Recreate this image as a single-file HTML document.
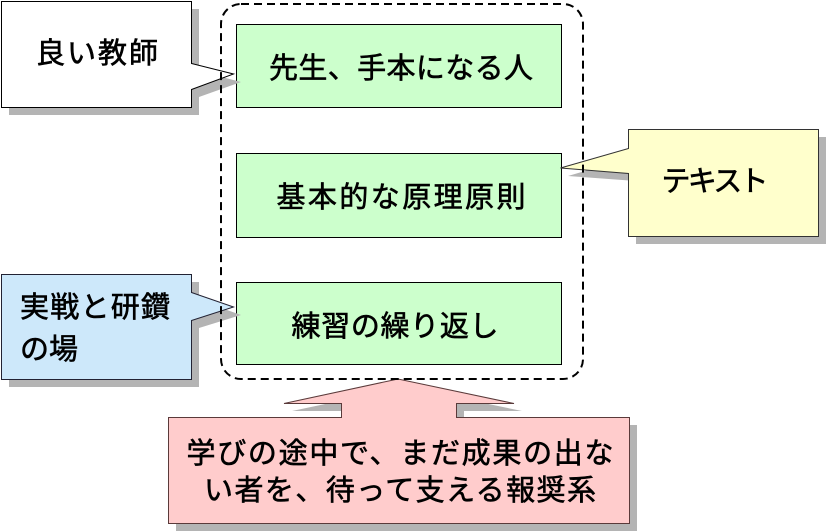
<!DOCTYPE html>
<html>
<head>
<meta charset="utf-8">
<style>
  html, body { margin: 0; padding: 0; background: #ffffff; }
  body { width: 826px; height: 532px; overflow: hidden; }
  svg { display: block; }
  text { font-family: "Liberation Sans", "Noto Sans CJK JP", sans-serif; fill: #000; stroke: #000; stroke-width: 0.6px; }
</style>
</head>
<body>
<svg width="826" height="532" viewBox="0 0 826 532" xmlns="http://www.w3.org/2000/svg">
  <!-- green boxes -->
  <rect x="236.5" y="24.5" width="325" height="83" fill="#ccffcc" stroke="#000" stroke-width="1"/>
  <rect x="236.5" y="153.5" width="325" height="84" fill="#ccffcc" stroke="#000" stroke-width="1"/>
  <rect x="236.5" y="282.5" width="325" height="82" fill="#ccffcc" stroke="#000" stroke-width="1"/>

  <text x="401" y="78" font-size="29" text-anchor="middle" textLength="264" lengthAdjust="spacing">先生、手本になる人</text>
  <text x="401" y="207" font-size="29" text-anchor="middle" textLength="249" lengthAdjust="spacing">基本的な原理原則</text>
  <text x="395" y="336" font-size="29" text-anchor="middle" textLength="207" lengthAdjust="spacing">練習の繰り返し</text>

  <!-- callout shadows -->
  <g fill="#b4b4b4">
    <path d="M9,9 L199,9 L199,71 L241,82 L199,97 L199,115 L9,115 Z"/>
    <path d="M636,137 L826,137 L826,244 L636,244 L636,181 L568,176 L636,156 Z"/>
    <path d="M9,282 L199,282 L199,300 L241,315 L199,328 L199,387 L9,387 Z"/>
    <path d="M176,425 L349,425 L349,411 L292,411 L406,387 L522,411 L464,411 L464,425 L637,425 L637,531 L176,531 Z"/>
  </g>

  <!-- callouts -->
  <path d="M1.5,1.5 L191.5,1.5 L191.5,63.5 L233.5,74 L191.5,89.5 L191.5,107.5 L1.5,107.5 Z" fill="#ffffff" stroke="#000" stroke-width="1"/>
  <path d="M628.5,129.5 L818.5,129.5 L818.5,236.5 L628.5,236.5 L628.5,173.5 L560.5,168 L628.5,148.5 Z" fill="#ffffcc" stroke="#333" stroke-width="1"/>
  <path d="M1.5,274.5 L191.5,274.5 L191.5,292.5 L233.5,307 L191.5,320.5 L191.5,379.5 L1.5,379.5 Z" fill="#cde8fa" stroke="#223" stroke-width="1"/>
  <path d="M168.5,417.5 L341.5,417.5 L341.5,403.5 L284,403.5 L398,379 L514,403.5 L456.5,403.5 L456.5,417.5 L629.5,417.5 L629.5,523.5 L168.5,523.5 Z" fill="#ffcccc" stroke="#5a3a3a" stroke-width="1"/>

  <text x="97" y="63" font-size="29" text-anchor="middle" textLength="122" lengthAdjust="spacing">良い教師</text>
  <text x="715" y="191" font-size="29" text-anchor="middle" textLength="107" lengthAdjust="spacing">テキスト</text>
  <text x="20" y="317" font-size="29" textLength="150" lengthAdjust="spacing">実戦と研鑽</text>
  <text x="20" y="359" font-size="29">の場</text>
  <text x="400" y="463" font-size="29" text-anchor="middle" textLength="427" lengthAdjust="spacing">学びの途中で、まだ成果の出な</text>
  <text x="400" y="500" font-size="29" text-anchor="middle" textLength="392" lengthAdjust="spacing">い者を、待って支える報奨系</text>

  <!-- dashed rounded container (drawn on top) -->
  <rect x="221" y="4" width="362" height="375" rx="20" ry="20" fill="none" stroke="#000" stroke-width="2" stroke-dasharray="8 5"/>
</svg>
</body>
</html>
